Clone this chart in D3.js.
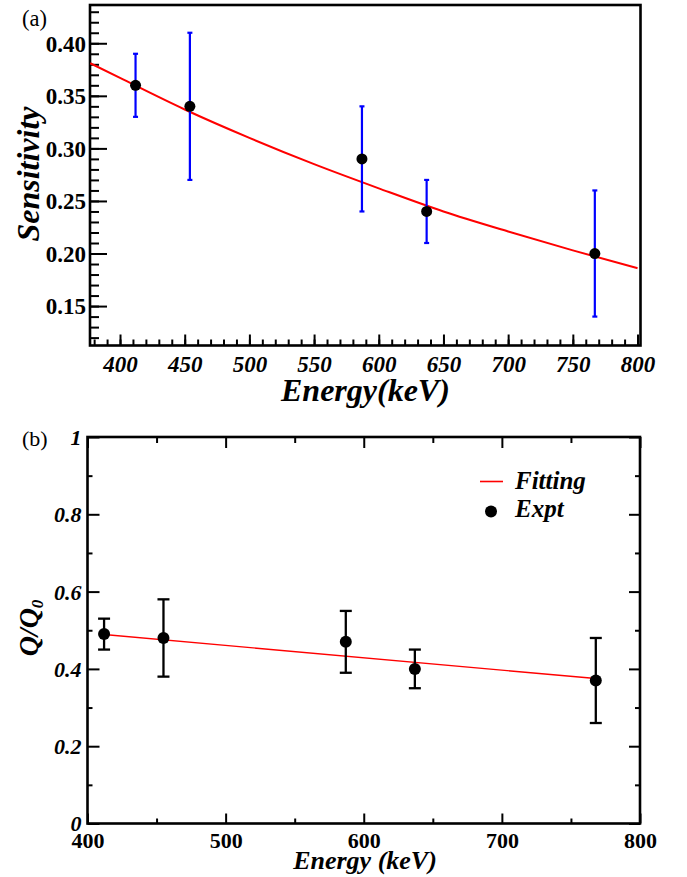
<!DOCTYPE html>
<html>
<head>
<meta charset="utf-8">
<script src="https://cdn.jsdelivr.net/npm/d3@7"></script>
<style>
  html, body { margin: 0; padding: 0; background: #fff; }
  svg { display: block; }
</style>
</head>
<body>
<svg id="chart" width="687" height="877"></svg>
<script>
// ---- Panel (a): sensitivity vs energy ----
const energyA = [412, 454, 587, 637, 767];
const sensitivity = [0.36, 0.34, 0.29, 0.24, 0.20];
const sensLow = [0.33, 0.27, 0.24, 0.21, 0.14];
const sensHigh = [0.39, 0.41, 0.34, 0.27, 0.26];
// fitted curve, sampled
const fitEnergyA = [377, 400, 450, 500, 550, 600, 650, 700, 750, 800];
const fitSens = [0.381, 0.367, 0.337, 0.310, 0.285, 0.262, 0.240, 0.221, 0.203, 0.186];
const xTicksA = [400, 450, 500, 550, 600, 650, 700, 750, 800];
const yTicksA = [0.15, 0.20, 0.25, 0.30, 0.35, 0.40];

// ---- Panel (b): Q/Q0 vs energy ----
const energyB = [412, 455, 587, 637, 768];
const quench = [0.49, 0.48, 0.47, 0.40, 0.37];
const quenchLow = [0.45, 0.38, 0.39, 0.35, 0.26];
const quenchHigh = [0.53, 0.58, 0.55, 0.45, 0.48];
const fitEnergyB = [412, 768];
const fitQuench = [0.489, 0.375];
const xTicksB = [400, 500, 600, 700, 800];
const yTicksB = [0, 0.2, 0.4, 0.6, 0.8, 1];
const legendItems = ["Fitting", "Expt"];

const SERIF = '"Liberation Serif", "Times New Roman", serif';
const svg = d3.select("#chart");

function cleanAxis(g) {
  g.attr("font-family", SERIF);
  g.select(".domain").remove();
  g.selectAll(".tick line").attr("stroke", "#000").attr("stroke-width", 2);
}

// ===================== Panel (a) =====================
{
  const L = 90, R = 640.5, T = 5, B = 345.5;
  const x = d3.scaleLinear().domain([376.8, 802.3]).range([L, R]);
  const y = d3.scaleLinear().domain([0.1125, 0.4364]).range([B, T]);
  const g = svg.append("g");

  // minor ticks
  g.append("g").attr("transform", `translate(0,${B})`)
    .call(d3.axisBottom(x).tickValues(d3.range(380, 801, 10)).tickSize(-6).tickFormat(""))
    .call(cleanAxis);
  g.append("g").attr("transform", `translate(${L},0)`)
    .call(d3.axisLeft(y).tickValues(d3.range(12, 44, 1).map(v => v / 100)).tickSize(-9).tickFormat(""))
    .call(cleanAxis);

  // major ticks + labels
  const xa = g.append("g").attr("transform", `translate(0,${B})`)
    .call(d3.axisBottom(x).tickValues(xTicksA).tickSize(-11).tickPadding(10).tickFormat(d3.format("d")))
    .call(cleanAxis);
  xa.selectAll(".tick text").attr("font-size", 23).attr("font-weight", "bold")
    .attr("font-style", "italic").attr("fill", "#000").attr("dy", "0.71em");
  const ya = g.append("g").attr("transform", `translate(${L},0)`)
    .call(d3.axisLeft(y).tickValues(yTicksA).tickSize(-17).tickPadding(4).tickFormat(d3.format(".2f")))
    .call(cleanAxis);
  ya.selectAll(".tick text").attr("font-size", 23).attr("font-weight", "bold")
    .attr("fill", "#000").attr("dy", "0.34em");

  // frame
  g.append("rect").attr("x", L).attr("y", T).attr("width", R - L).attr("height", B - T)
    .attr("fill", "none").attr("stroke", "#000").attr("stroke-width", 2.6);

  // fitted curve
  g.append("path")
    .datum(fitEnergyA.map((e, i) => [e, fitSens[i]]))
    .attr("fill", "none").attr("stroke", "#ff0000").attr("stroke-width", 2)
    .attr("d", d3.line().x(d => x(d[0])).y(d => y(d[1])).curve(d3.curveMonotoneX));

  // error bars
  const eb = g.append("g").attr("stroke", "#0000ff").attr("stroke-width", 2.2);
  energyA.forEach((e, i) => {
    eb.append("line").attr("x1", x(e)).attr("x2", x(e)).attr("y1", y(sensLow[i])).attr("y2", y(sensHigh[i]));
    [sensLow[i], sensHigh[i]].forEach(v => {
      eb.append("line").attr("x1", x(e) - 2.5).attr("x2", x(e) + 2.5).attr("y1", y(v)).attr("y2", y(v));
    });
  });

  // points
  g.append("g").selectAll("circle").data(energyA).join("circle")
    .attr("cx", d => x(d)).attr("cy", (d, i) => y(sensitivity[i])).attr("r", 5.5).attr("fill", "#000");

  // titles
  svg.append("text").attr("x", 281).attr("y", 401)
    .attr("font-size", 32).attr("font-weight", "bold").attr("font-style", "italic")
    .text("Energy(keV)");
  svg.append("text").attr("transform", "translate(39,174) rotate(-90)")
    .attr("text-anchor", "middle")
    .attr("font-size", 32).attr("font-weight", "bold").attr("font-style", "italic")
    .text("Sensitivity");
  svg.append("text").attr("x", 22).attr("y", 26).attr("font-size", 22.5).text("(a)");
}

// ===================== Panel (b) =====================
{
  const L = 87.5, R = 640, T = 437, B = 823.5;
  const x = d3.scaleLinear().domain([400, 800]).range([L, R]);
  const y = d3.scaleLinear().domain([0, 1]).range([B, T]);
  const g = svg.append("g");

  // minor ticks on all four sides
  const minorX = d3.range(450, 800, 100);
  const minorY = d3.range(0.1, 1, 0.2);
  g.append("g").attr("transform", `translate(0,${B})`)
    .call(d3.axisBottom(x).tickValues(minorX).tickSize(-5).tickFormat("")).call(cleanAxis);
  g.append("g").attr("transform", `translate(0,${T})`)
    .call(d3.axisTop(x).tickValues(minorX).tickSize(-6).tickFormat("")).call(cleanAxis);
  g.append("g").attr("transform", `translate(${L},0)`)
    .call(d3.axisLeft(y).tickValues(minorY).tickSize(-5).tickFormat("")).call(cleanAxis);
  g.append("g").attr("transform", `translate(${R},0)`)
    .call(d3.axisRight(y).tickValues(minorY).tickSize(-5).tickFormat("")).call(cleanAxis);

  // major ticks
  g.append("g").attr("transform", `translate(0,${T})`)
    .call(d3.axisTop(x).tickValues(xTicksB).tickSize(-11).tickFormat("")).call(cleanAxis);
  g.append("g").attr("transform", `translate(${R},0)`)
    .call(d3.axisRight(y).tickValues(yTicksB).tickSize(-11).tickFormat("")).call(cleanAxis);
  const xa = g.append("g").attr("transform", `translate(0,${B})`)
    .call(d3.axisBottom(x).tickValues(xTicksB).tickSize(-10).tickPadding(9).tickFormat(d3.format("d")))
    .call(cleanAxis);
  xa.selectAll(".tick text").attr("font-size", 22).attr("font-weight", "bold")
    .attr("fill", "#000").attr("dy", "0.71em");
  const ya = g.append("g").attr("transform", `translate(${L},0)`)
    .call(d3.axisLeft(y).tickValues(yTicksB).tickSize(-12).tickPadding(6).tickFormat(d3.format("~g")))
    .call(cleanAxis);
  ya.selectAll(".tick text").attr("font-size", 22).attr("font-weight", "bold")
    .attr("font-style", "italic").attr("fill", "#000").attr("dy", "0.34em");

  // frame
  g.append("rect").attr("x", L).attr("y", T).attr("width", R - L).attr("height", B - T)
    .attr("fill", "none").attr("stroke", "#000").attr("stroke-width", 2.6);

  // fitted line
  g.append("path")
    .datum(fitEnergyB.map((e, i) => [e, fitQuench[i]]))
    .attr("fill", "none").attr("stroke", "#ff0000").attr("stroke-width", 1.4)
    .attr("d", d3.line().x(d => x(d[0])).y(d => y(d[1])));

  // error bars
  const eb = g.append("g").attr("stroke", "#000").attr("stroke-width", 2.3);
  energyB.forEach((e, i) => {
    eb.append("line").attr("x1", x(e)).attr("x2", x(e)).attr("y1", y(quenchLow[i])).attr("y2", y(quenchHigh[i]));
    [quenchLow[i], quenchHigh[i]].forEach(v => {
      eb.append("line").attr("x1", x(e) - 6).attr("x2", x(e) + 6).attr("y1", y(v)).attr("y2", y(v));
    });
  });

  // points
  g.append("g").selectAll("circle").data(energyB).join("circle")
    .attr("cx", d => x(d)).attr("cy", (d, i) => y(quench[i])).attr("r", 6).attr("fill", "#000");

  // legend
  const lg = svg.append("g");
  lg.append("line").attr("x1", 480).attr("x2", 503).attr("y1", 481.5).attr("y2", 481.5)
    .attr("stroke", "#ff0000").attr("stroke-width", 1.6);
  lg.append("circle").attr("cx", 491).attr("cy", 511.5).attr("r", 6).attr("fill", "#000");
  lg.selectAll("text").data(legendItems).join("text")
    .attr("x", 515).attr("y", (d, i) => [489, 517][i])
    .attr("font-size", 25).attr("font-weight", "bold").attr("font-style", "italic")
    .text(d => d);

  // titles
  svg.append("text").attr("x", 365).attr("y", 869).attr("text-anchor", "middle")
    .attr("font-size", 26).attr("font-weight", "bold").attr("font-style", "italic")
    .text("Energy (keV)");
  const yt = svg.append("text").attr("transform", "translate(38,628) rotate(-90)")
    .attr("text-anchor", "middle")
    .attr("font-size", 28).attr("font-weight", "bold").attr("font-style", "italic");
  yt.append("tspan").text("Q/Q");
  yt.append("tspan").attr("font-size", 17).attr("dy", 5).text("0");
  svg.append("text").attr("x", 22).attr("y", 446).attr("font-size", 22).text("(b)");
}

// every label uses the serif face
svg.selectAll("text").style("font-family", SERIF);
</script>
</body>
</html>
